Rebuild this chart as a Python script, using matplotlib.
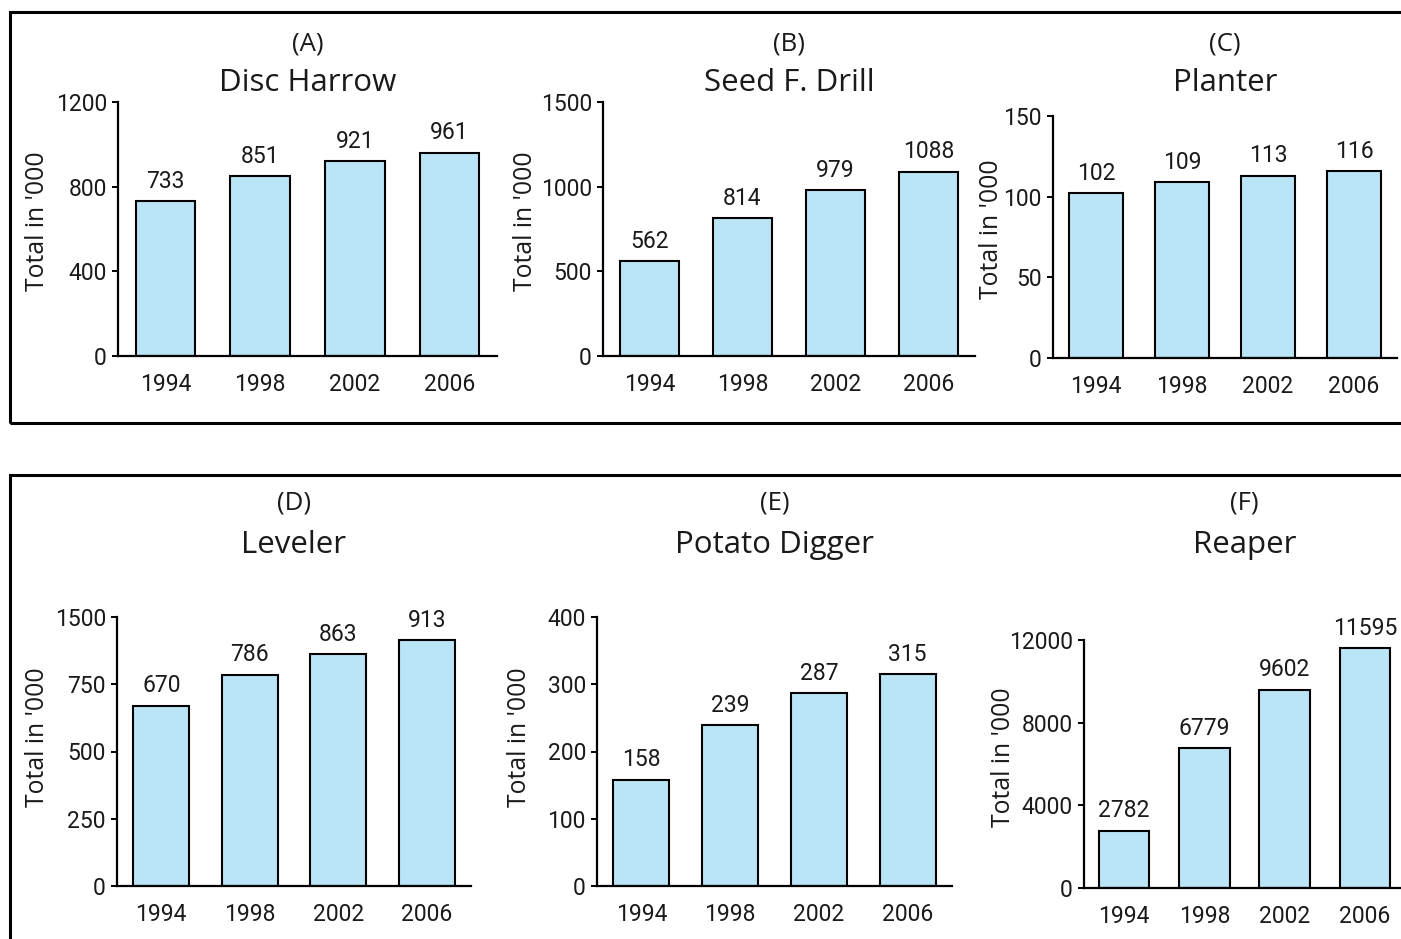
import matplotlib
matplotlib.use("Agg")
import matplotlib.pyplot as plt
from matplotlib import font_manager
from matplotlib.patches import Rectangle
import numpy as np

years = ["1994", "1998", "2002", "2006"]

disc_harrow = [733, 851, 921, 961]
seed_drill = [562, 814, 979, 1088]
planter = [102, 109, 113, 116]
leveler = [670, 786, 863, 913]
potato_digger = [158, 239, 287, 315]
reaper = [2782, 6779, 9602, 11595]

letters = ["(A)", "(B)", "(C)", "(D)", "(E)", "(F)"]
titles = ["Disc Harrow", "Seed F. Drill", "Planter", "Leveler", "Potato Digger", "Reaper"]

yticks_a = [0, 400, 800, 1200]
yticks_b = [0, 500, 1000, 1500]
yticks_c = [0, 50, 100, 150]
yticks_d = [0, 250, 500, 750, 1000]
ylabels_d = ["0", "250", "500", "750", "1500"]   # printed that way in the source
yticks_e = [0, 100, 200, 300, 400]
yticks_f = [0, 4000, 8000, 12000]

W, H = 1401, 939
bar_col = "#bae5f7"

# fonts: a narrow one for the numbers if installed, else Roboto
names = {f.name for f in font_manager.fontManager.ttflist}
if "Liberation Sans Narrow" in names:
    numfam, numsize = "Liberation Sans Narrow", 18
else:
    numfam, numsize = "Roboto", 16.5
txtfam = ["Open Sans", "DejaVu Sans"]

fig = plt.figure(figsize=(W / 100, H / 100), dpi=100)

def px_axes(l, r, t, b):
    return fig.add_axes([l / W, 1 - b / H, (r - l) / W, (b - t) / H])

# (left, right, top, bottom) pixel boxes, ylabel centre, letter y, title y
panels = [
    (disc_harrow, yticks_a, None, (118, 497, 102, 356), 37, 221, 44, 83),
    (seed_drill, yticks_b, None, (603, 975, 102, 356), 526, 221, 44, 83),
    (planter, yticks_c, None, (1053, 1397, 116, 358), 991, 229, 44, 83),
    (leveler, yticks_d, ylabels_d, (117, 471, 617, 886), 38, 737, 503, 545),
    (potato_digger, yticks_e, None, (597, 952, 617, 886), 519, 737, 503, 545),
    (reaper, yticks_f, None, (1084, 1405, 640, 888), 1004, 757, 503, 545),
]

x = np.arange(len(years))
for i, (vals, yt, ytl, box, lx, ly, t1, t2) in enumerate(panels):
    l, r, t, b = box
    ax = px_axes(l, r, t, b)
    ax.bar(x, vals, width=0.63, color=bar_col, edgecolor="black", linewidth=1.5, zorder=2)
    ax.set_xlim(-0.5, 3.5)
    ax.set_ylim(yt[0], yt[-1])
    ax.set_yticks(yt)
    ax.set_yticklabels(ytl if ytl else [str(v) for v in yt])
    ax.set_xticks(x)
    ax.set_xticklabels(years)
    ax.tick_params(axis="x", length=0, pad=12, labelsize=numsize)
    ax.tick_params(axis="y", length=4, width=1.4, pad=4, labelsize=numsize)
    for lbl in ax.get_xticklabels() + ax.get_yticklabels():
        lbl.set_fontfamily(numfam)
        lbl.set_color("#1a1a1a")
    for s in ["top", "right"]:
        ax.spines[s].set_visible(False)
    for s in ["left", "bottom"]:
        ax.spines[s].set_linewidth(1.6)
    for xi, v in zip(x, vals):
        ax.annotate(str(v), (xi, v), xytext=(0, 6), textcoords="offset points",
                    ha="center", va="bottom", family=numfam, fontsize=numsize,
                    color="#1a1a1a")
    ax.set_ylabel("Total in '000", fontsize=17.8, family=txtfam, va="center", color="#1a1a1a")
    ax.yaxis.set_label_coords((lx - l) / (r - l), (b - ly) / (b - t))
    cx = (l + r) / 2
    fig.text(cx / W, 1 - t1 / H, letters[i], ha="center", va="center", fontsize=18.5,
             family=txtfam, color="#1a1a1a")
    fig.text(cx / W, 1 - t2 / H, titles[i], ha="center", va="center", fontsize=22.5,
             family=txtfam, color="#1a1a1a")

# the two framing boxes, open on the cut edges
fig.patches.append(Rectangle((10 / W, 1 - 423 / H), 1420 / W, 411 / H, transform=fig.transFigure,
                             fill=False, edgecolor="black", linewidth=2.2))
fig.patches.append(Rectangle((10 / W, 1 - 980 / H), 1420 / W, 505 / H, transform=fig.transFigure,
                             fill=False, edgecolor="black", linewidth=2.2))

fig.savefig("out.png", dpi=100)
